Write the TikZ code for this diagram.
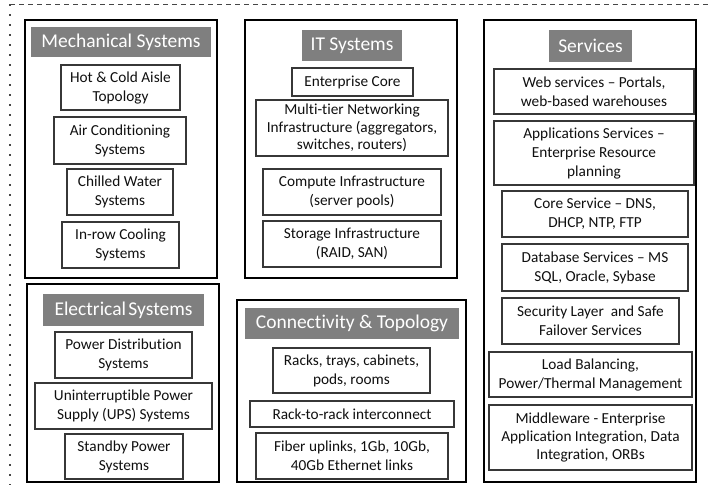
\documentclass[tikz,border=0pt]{standalone}
\usepackage{fontspec}
\setmainfont{Carlito}[Ligatures={NoCommon}]
\definecolor{titlegray}{RGB}{127,127,127}
\definecolor{itemline}{RGB}{55,55,55}
\definecolor{itemtext}{RGB}{15,15,15}
\definecolor{framegray}{RGB}{70,70,70}
\tikzset{
  group/.style={draw=black, line width=2pt, inner sep=0pt},
  heading/.style={fill=titlegray, text=white, inner sep=0pt,
    font=\fontsize{19.5}{22}\selectfont},
  item/.style={draw=itemline, line width=1.1pt, inner sep=0pt, align=center,
    text=itemtext, font=\fontsize{15.3}{19}\selectfont},
  box/.style args={#1x#2}{minimum width=#1pt, minimum height=#2pt},
}
\begin{document}
\begin{tikzpicture}[x=1pt, y=-1pt]
\useasboundingbox (0,0) rectangle (709,485);

% frame edges
\coordinate (fc) at (10,4);
\coordinate (fr) at (709,4);
\coordinate (fb) at (10,485);
\draw[framegray, line width=1pt, dash pattern=on 5pt off 4pt] (fc) -- (fr);
\draw[framegray, line width=1.6pt, dash pattern=on 1.6pt off 8.4pt] (fc) -- (fb);

% Mechanical systems
\node[group, box=192x258] (mech) at (121,149) {};
\node[heading, box=180x30] (mechT) at (121,42) {Mechanical Systems};
\node[item, box=119x45] (m1) at (120.5,87.5) {Hot \& Cold Aisle\\Topology};
\node[item, box=132x47] (m2) at (120,140.5) {Air Conditioning\\Systems};
\node[item, box=106x46] (m3) at (120,192) {Chilled Water\\Systems};
\node[item, box=117x46] (m4) at (120.5,245) {In-row Cooling\\Systems};

% IT systems
\node[group, box=212x258] (it) at (351,149) {};
\node[heading, box=100x31] (itT) at (352,45.5) {IT Systems};
\node[item, box=121x28] (i1) at (352.5,82) {Enterprise Core};
\node[item, box=192x56] (i2) at (352,128) {Multi-tier Networking\\[-1.6pt]Infrastructure (aggregators,\\[-1.6pt]switches, routers)};
\node[item, box=178x46] (i3) at (352,192) {Compute Infrastructure\\(server pools)};
\node[item, box=178x46] (i4) at (352,244) {Storage Infrastructure\\(RAID, SAN)};

% Services
\node[group, box=212x462] (srv) at (590,251) {};
\node[heading, box=83x32] (srvT) at (590.5,46) {Services};
\node[item, box=200x45] (s1) at (594,91.5) {Web services -- Portals,\\web-based warehouses};
\node[item, box=200x64] (s2) at (594,153) {Applications Services --\\Enterprise Resource\\planning};
\node[item, box=186x46] (s3) at (595,214) {Core Service -- DNS,\\DHCP, NTP, FTP};
\node[item, box=186x47] (s4) at (595,267.5) {Database Services -- MS\\SQL, Oracle, Sybase};
\node[item, box=177x46] (s5) at (590.5,321) {Security Layer \ and Safe\\Failover Services};
\node[item, box=203x45] (s6) at (590.5,374.5) {Load Balancing,\\Power/Thermal Management};
\node[item, box=203x65] (s7) at (590.5,437.5) {Middleware - Enterprise\\[-0.6pt]Application Integration, Data\\[-0.6pt]Integration, ORBs};

% Electrical systems
\node[group, box=192x198] (elec) at (123,383) {};
\node[heading, box=161x32] (elecT) at (123.5,310) {Electrical\hspace{0.12em}Systems};
\node[item, box=137x46] (e1) at (123.5,355) {Power Distribution\\Systems};
\node[item, box=177x46] (e2) at (123.5,406) {Uninterruptible Power\\Supply (UPS) Systems};
\node[item, box=118x45] (e3) at (124,456.5) {Standby Power\\Systems};

% Connectivity & topology
\node[group, box=229x182] (conn) at (351.5,391) {};
\node[heading, box=214x31] (connT) at (352,323.5) {Connectivity \& Topology};
\node[item, box=157x45] (c1) at (351.5,370.5) {Racks, trays, cabinets,\\pods, rooms};
\node[item, box=204x26] (c2) at (352,414) {Rack-to-rack interconnect};
\node[item, box=192x46] (c3) at (352,456) {Fiber uplinks, 1Gb, 10Gb,\\40Gb Ethernet links};
\end{tikzpicture}
\end{document}
